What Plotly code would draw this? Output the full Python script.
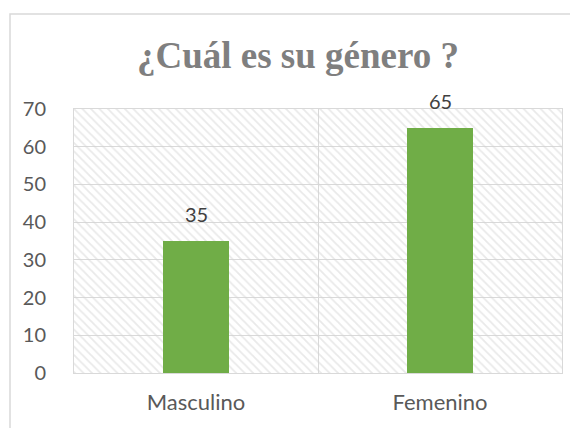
import plotly.graph_objects as go

categories = ["Masculino", "Femenino"]
values = [35, 65]
y_ticks = [0, 10, 20, 30, 40, 50, 60, 70]
title_text = "¿Cuál es su género ?"

# page has an 8px body margin, so the figure is 570x420 in a 578x428 window
W, H = 570, 420
ml, mr, mt, mb = 66, 16, 101, 55
pw, ph = W - ml - mr, H - mt - mb

fig = go.Figure()

# hatched plot-area background
fig.add_trace(go.Bar(
    x=categories, y=[max(y_ticks)] * len(categories), width=1,
    marker=dict(color="rgba(0,0,0,0)", line=dict(width=0),
                pattern=dict(shape="\\", fgcolor="#d4d4d4", bgcolor="rgba(0,0,0,0)",
                             size=6, solidity=0.3)),
    hoverinfo="skip", showlegend=False,
))

fig.add_trace(go.Bar(
    x=categories, y=values, width=0.27,
    marker=dict(color="#70AD47", line=dict(width=0)),
    hoverinfo="x+y", showlegend=False,
))

for c, v in zip(categories, values):
    fig.add_annotation(x=c, y=v, text=str(v), showarrow=False,
                       yanchor="bottom", yshift=13,
                       font=dict(family="Lato", size=20, color="#404040"))

def px_to_paper_x(px):
    return (px - ml) / pw

def px_to_paper_y(py):
    return (H - mb - py) / ph

fig.add_shape(type="rect", xref="paper", yref="paper",
              x0=px_to_paper_x(2), x1=px_to_paper_x(W + 5),
              y0=px_to_paper_y(H + 5), y1=px_to_paper_y(6),
              line=dict(color="#d9d9d9", width=1.5), fillcolor="rgba(0,0,0,0)",
              layer="below")

fig.update_layout(
    width=W, height=H,
    margin=dict(l=ml, r=mr, t=mt, b=mb),
    paper_bgcolor="white", plot_bgcolor="white",
    barmode="overlay",
    title=dict(text=title_text, x=290 / W, xref="container", xanchor="center",
               y=1 - 47 / H, yref="container", yanchor="middle",
               font=dict(family="Liberation Serif", size=37, color="#7f7f7f",
                         weight="bold")),
    font=dict(family="Lato", size=20, color="#595959"),
    bargap=0,
)
fig.update_xaxes(type="category", tickson="boundaries", showgrid=True,
                 gridcolor="#d9d9d9", gridwidth=1, showline=True,
                 linecolor="#d9d9d9", linewidth=1, mirror=True, ticks="",
                 ticklabelstandoff=10,
                 tickfont=dict(family="Lato", size=22, color="#595959"),
                 range=[-0.5, 1.5])
fig.update_yaxes(range=[0, 70], tickvals=y_ticks, showgrid=True,
                 gridcolor="#d9d9d9", gridwidth=1, showline=True,
                 linecolor="#d9d9d9", linewidth=1, mirror=True, ticks="",
                 ticklabelstandoff=23, zeroline=False,
                 tickfont=dict(family="Lato", size=20, color="#595959"))

fig.write_html("out.html")
